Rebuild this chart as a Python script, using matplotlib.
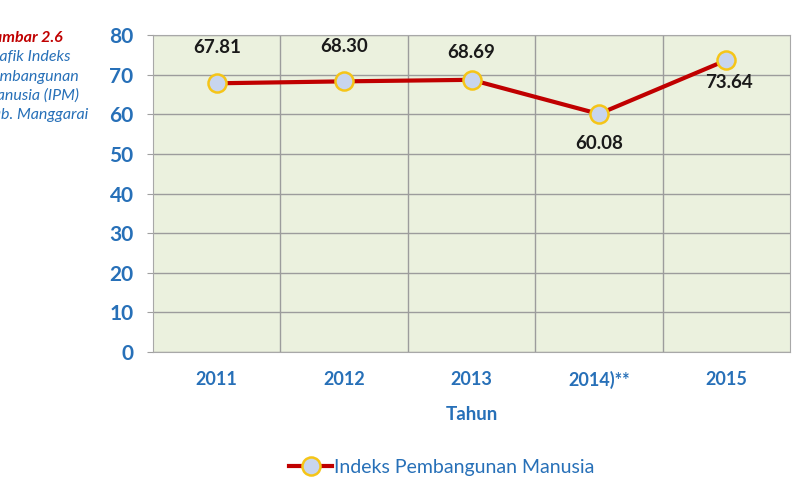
import numpy as np
import matplotlib.pyplot as plt

# data
tahun = ['2011', '2012', '2013', '2014)**', '2015']
ipm = [67.81, 68.30, 68.69, 60.08, 73.64]
label_text = ['67.81', '68.30', '68.69', '60.08', '73.64']
# label offsets in pixels (dx, dy)
label_off = [(0, 36), (0, 35), (0, 27), (0, -30), (3, -22)]

blue = '#2770B8'
red_line = '#C00000'

plt.rcParams['font.family'] = ['Lato', 'DejaVu Sans']

fig = plt.figure(figsize=(8.11, 4.78), dpi=100)
ax = fig.add_axes([153 / 811, 1 - 352 / 478, (790 - 153) / 811, (352 - 35) / 478])
ax.set_facecolor('#EBF1DE')

x = np.arange(len(tahun))
ax.plot(x, ipm, color=red_line, lw=3, marker='o', ms=13,
        mfc='#C8D5EE', mec='#F5C518', mew=1.8, zorder=3,
        label='Indeks Pembangunan Manusia')

for i in range(len(x)):
    ax.annotate(label_text[i], (x[i], ipm[i]), xytext=label_off[i],
                textcoords='offset pixels', ha='center', va='center',
                fontsize=13.5, fontweight='bold', color='#1a1a1a')

ax.set_xlim(-0.5, len(tahun) - 0.5)
ax.set_ylim(0, 80)
ax.set_yticks(np.arange(0, 81, 10))
ax.set_xticks(x)
ax.set_xticklabels(tahun)

# vertical grid at category boundaries
for b in np.arange(0.5, len(tahun) - 0.5, 1):
    ax.axvline(b, color='#9C9C9C', lw=1, zorder=1)
ax.yaxis.grid(True, color='#9C9C9C', lw=1, zorder=1)
ax.set_axisbelow(True)

for s in ax.spines.values():
    s.set_color('#A8A8A8')

ax.tick_params(axis='y', length=4, color='#A0A0A0', pad=10,
               labelsize=15, labelcolor=blue)
ax.tick_params(axis='x', length=0, pad=13.5, labelsize=13, labelcolor=blue)
for t in ax.get_yticklabels() + ax.get_xticklabels():
    t.set_fontweight('bold')

ax.set_xlabel('Tahun', fontsize=13.5, fontweight='bold', color=blue, labelpad=12)

fig.legend(loc='center', bbox_to_anchor=(442 / 811, 1 - 467 / 478),
           frameon=False, fontsize=14, handlelength=2.2, handletextpad=0.1,
           labelcolor=blue)

# caption on the left, partly cut off by the figure edge
cap_x = -17 / 811
fig.text(cap_x, 1 - 38 / 478, 'Gambar 2.6', color='#C00000', fontsize=11.5,
         fontweight='bold', style='italic', va='center')
lines = ['Grafik Indeks', 'Pembangunan', 'Manusia (IPM)', 'Kab. Manggarai']
for k, t in enumerate(lines):
    fig.text(cap_x, 1 - (57 + 19.5 * k) / 478, t, color=blue, fontsize=11.5,
             style='italic', va='center')

fig.savefig('out.png', dpi=100)
